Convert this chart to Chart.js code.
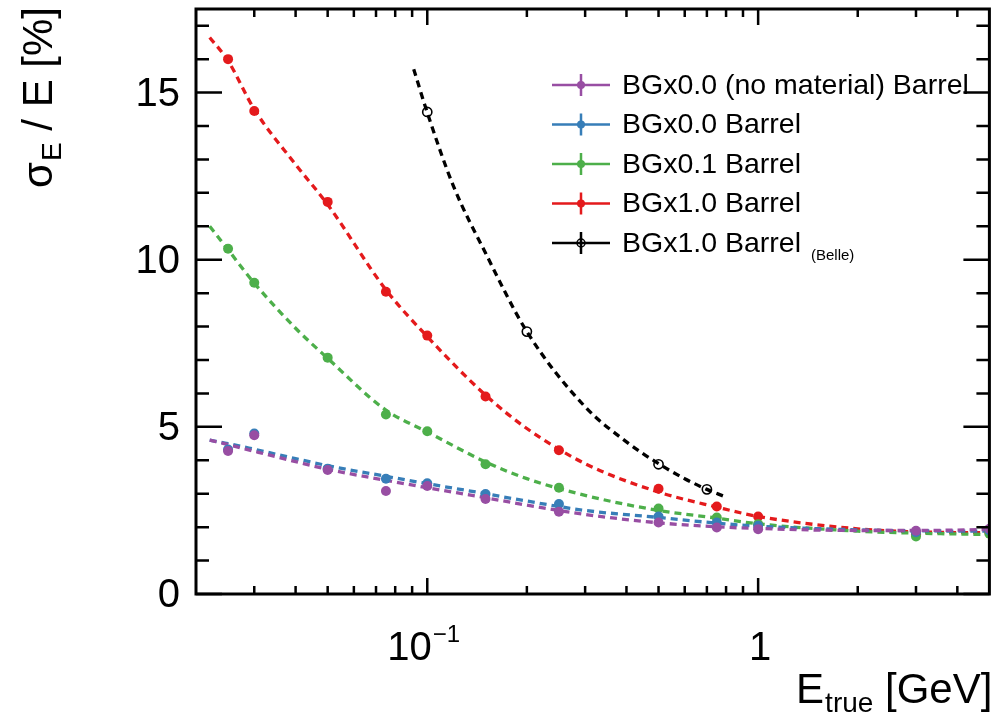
<!DOCTYPE html>
<html><head><meta charset="utf-8">
<script src="https://cdn.jsdelivr.net/npm/chart.js@4.4.1/dist/chart.umd.min.js"></script>
<style>html,body{margin:0;padding:0;background:#fff;} #wrap{width:996px;height:714px;position:relative;}</style>
</head><body><div id="wrap"><canvas id="c" width="996" height="714"></canvas></div>
<script>
// ---- data ----
const energies   = [0.025, 0.03, 0.05, 0.075, 0.1, 0.15, 0.25, 0.5, 0.75, 1.0, 3.0, 5.0];
const noMaterial = [4.28, 4.75, 3.71, 3.08, 3.23, 2.84, 2.46, 2.14, 1.99, 1.94, 1.89, 1.95];
const bg00       = [4.32, 4.80, 3.75, 3.45, 3.31, 2.99, 2.69, 2.32, 2.14, 2.04, 1.85, 1.90];
const bg01       = [10.33, 9.31, 7.07, 5.37, 4.87, 3.88, 3.18, 2.56, 2.29, 2.09, 1.72, 1.80];
const bg10       = [16.0, 14.45, 11.73, 9.04, 7.73, 5.91, 4.30, 3.15, 2.62, 2.32, 1.79, 1.84];
const belleE     = [0.1, 0.2, 0.5, 0.7];
const belle      = [14.42, 7.85, 3.88, 3.13];

// fit curves (dashed)
const fitE          = [0.022, 0.025, 0.03, 0.04, 0.05, 0.075, 0.1, 0.15, 0.2, 0.3, 0.5, 0.75, 1, 2, 3, 5];
const fitNoMaterial = [4.60, 4.47, 4.27, 3.96, 3.73, 3.40, 3.18, 2.88, 2.66, 2.38, 2.13, 2.01, 1.96, 1.90, 1.90, 1.93];
const fitBg00       = [4.60, 4.50, 4.33, 4.05, 3.84, 3.52, 3.30, 3.00, 2.78, 2.50, 2.29, 2.12, 2.03, 1.92, 1.89, 1.88];
const fitBg01       = [11.0, 10.3, 9.30, 7.95, 7.05, 5.50, 4.85, 3.95, 3.45, 2.95, 2.50, 2.27, 2.10, 1.88, 1.82, 1.78];
const fitBg10       = [16.65, 15.95, 14.5, 12.85, 11.65, 9.10, 7.70, 5.95, 4.95, 3.90, 3.05, 2.60, 2.32, 1.95, 1.86, 1.83];
const fitBelleE     = [0.091, 0.1, 0.12, 0.15, 0.2, 0.3, 0.4, 0.5, 0.6, 0.7, 0.79];
const fitBelle      = [15.7, 14.4, 12.2, 10.2, 7.85, 5.6, 4.55, 3.9, 3.45, 3.13, 2.92];

const seriesNames  = ["BGx0.0 (no material) Barrel", "BGx0.0 Barrel", "BGx0.1 Barrel", "BGx1.0 Barrel", "BGx1.0 Barrel"];
const seriesSuffix = ["", "", "", "", "(Belle)"];
const seriesColors = ["#984ea3", "#377eb8", "#4daf4a", "#e41a1c", "#000000"];

const yMajorTicks = [0, 5, 10, 15];
const yMinorTicks = [1,2,3,4,6,7,8,9,11,12,13,14,16,17];
const xMajorTicks = [0.1, 1];
const xMajorLabels = [["10", "\u22121"], ["1", ""]];
const xMinorTicks = [0.03,0.04,0.05,0.06,0.07,0.08,0.09,0.2,0.3,0.4,0.5,0.6,0.7,0.8,0.9,2,3,4];
const xTitle = ["E", "true", " [GeV]"];
const yTitle = ["\u03c3", "E", " / E [%]"];

const FONT = "'Liberation Sans', Arial, Helvetica, sans-serif";

function pts(xs, ys) { return xs.map((x, i) => ({x: x, y: ys[i]})); }

const pointSets = [
  [energies, noMaterial], [energies, bg00], [energies, bg01], [energies, bg10], [belleE, belle]
];
const fitSets = [
  [fitE, fitNoMaterial], [fitE, fitBg00], [fitE, fitBg01], [fitE, fitBg10], [fitBelleE, fitBelle]
];

const datasets = [];
pointSets.forEach((s, i) => {
  const open = (i === 4);
  datasets.push({
    label: seriesNames[i],
    data: pts(s[0], s[1]),
    showLine: false,
    pointRadius: open ? 4.6 : 5,
    pointHoverRadius: 5,
    pointBackgroundColor: open ? "rgba(255,255,255,0)" : seriesColors[i],
    pointBorderColor: seriesColors[i],
    pointBorderWidth: open ? 1.6 : 0,
    order: i,
    clip: 0
  });
});
fitSets.forEach((s, i) => {
  datasets.push({
    label: "fit " + i,
    data: pts(s[0], s[1]),
    showLine: true,
    borderColor: seriesColors[i],
    borderWidth: 3.3,
    borderDash: [7, 5],
    pointRadius: 0,
    cubicInterpolationMode: "monotone",
    order: 10 + i,
    clip: 0
  });
});

const framePlugin = {
  id: "frame",
  afterDraw(chart) {
    const ctx = chart.ctx, a = chart.chartArea;
    const xs = chart.scales.x, ys = chart.scales.y;
    ctx.save();
    ctx.strokeStyle = "#000";
    ctx.lineWidth = 2.5;
    // ticks
    ctx.beginPath();
    yMajorTicks.forEach(v => { const p = ys.getPixelForValue(v);
      ctx.moveTo(a.left, p); ctx.lineTo(a.left + 26, p);
      ctx.moveTo(a.right, p); ctx.lineTo(a.right - 26, p); });
    yMinorTicks.forEach(v => { const p = ys.getPixelForValue(v);
      ctx.moveTo(a.left, p); ctx.lineTo(a.left + 13, p);
      ctx.moveTo(a.right, p); ctx.lineTo(a.right - 13, p); });
    xMajorTicks.forEach(v => { const p = xs.getPixelForValue(v);
      ctx.moveTo(p, a.bottom); ctx.lineTo(p, a.bottom - 16);
      ctx.moveTo(p, a.top); ctx.lineTo(p, a.top + 16); });
    xMinorTicks.forEach(v => { const p = xs.getPixelForValue(v);
      ctx.moveTo(p, a.bottom); ctx.lineTo(p, a.bottom - 8);
      ctx.moveTo(p, a.top); ctx.lineTo(p, a.top + 8); });
    ctx.stroke();
    // frame
    ctx.lineWidth = 3;
    ctx.strokeRect(a.left, a.top, a.right - a.left, a.bottom - a.top);

    // y tick labels
    ctx.fillStyle = "#000";
    ctx.font = "40px " + FONT;
    ctx.textAlign = "right";
    ctx.textBaseline = "middle";
    yMajorTicks.forEach(v => ctx.fillText(String(v), a.left - 16, ys.getPixelForValue(v) + 2));

    // x tick labels
    ctx.textBaseline = "alphabetic";
    ctx.textAlign = "left";
    xMajorTicks.forEach((v, i) => {
      const p = xs.getPixelForValue(v);
      const base = xMajorLabels[i][0], sup = xMajorLabels[i][1];
      ctx.font = "40px " + FONT;
      const wb = ctx.measureText(base).width;
      ctx.font = "24px " + FONT;
      const ws = sup ? ctx.measureText(sup).width : 0;
      const x0 = p - (wb + ws) / 2 - (sup ? 4 : -2);
      ctx.font = "40px " + FONT;
      ctx.fillText(base, x0, 660);
      if (sup) { ctx.font = "24px " + FONT; ctx.fillText(sup, x0 + wb + 1, 642); }
    });

    // x title (right aligned to frame)
    ctx.font = "42px " + FONT;
    const wE = ctx.measureText(xTitle[0]).width;
    const wR = ctx.measureText(xTitle[2]).width;
    ctx.font = "28px " + FONT;
    const wS = ctx.measureText(xTitle[1]).width;
    let tx = a.right + 2 - (wE + wS + wR);
    ctx.font = "42px " + FONT;
    ctx.fillText(xTitle[0], tx, 703);
    ctx.font = "28px " + FONT;
    ctx.fillText(xTitle[1], tx + wE + 1, 712);
    ctx.font = "42px " + FONT;
    ctx.fillText(xTitle[2], tx + wE + wS + 1, 703);

    // y title (rotated, top aligned)
    ctx.save();
    ctx.translate(52, a.top - 1);
    ctx.rotate(-Math.PI / 2);
    ctx.font = "42px " + FONT;
    const w1 = ctx.measureText(yTitle[0]).width;
    const w3 = ctx.measureText(yTitle[2]).width;
    ctx.font = "28px " + FONT;
    const w2 = ctx.measureText(yTitle[1]).width;
    let yx = -(w1 + w2 + w3);
    ctx.font = "42px " + FONT;
    ctx.fillText(yTitle[0], yx, 0);
    ctx.font = "28px " + FONT;
    ctx.fillText(yTitle[1], yx + w1 + 1, 9);
    ctx.font = "42px " + FONT;
    ctx.fillText(yTitle[2], yx + w1 + w2 + 1, 0);
    ctx.restore();

    // legend
    const lx0 = 552, lx1 = 610, tx0 = 622, ly0 = 85, dy = 39.5;
    seriesNames.forEach((name, i) => {
      const y = ly0 + i * dy, c = seriesColors[i];
      ctx.strokeStyle = c; ctx.fillStyle = c; ctx.lineWidth = 2.5;
      ctx.beginPath();
      ctx.moveTo(lx0, y); ctx.lineTo(lx1, y);
      ctx.moveTo((lx0 + lx1) / 2, y - 11); ctx.lineTo((lx0 + lx1) / 2, y + 11);
      ctx.stroke();
      ctx.beginPath();
      ctx.arc((lx0 + lx1) / 2, y, 4, 0, Math.PI * 2);
      if (i === 4) { ctx.lineWidth = 1.5; ctx.stroke(); } else ctx.fill();
      ctx.fillStyle = "#000";
      ctx.font = "28.5px " + FONT;
      ctx.textBaseline = "middle";
      ctx.fillText(name, tx0, y + 1);
      if (seriesSuffix[i]) {
        const w = ctx.measureText(name).width;
        ctx.font = "15px " + FONT;
        ctx.fillText(seriesSuffix[i], tx0 + w + 10, y + 13);
      }
      ctx.textBaseline = "alphabetic";
    });
    ctx.restore();
  }
};

new Chart(document.getElementById("c"), {
  type: "scatter",
  data: { datasets: datasets },
  options: {
    responsive: false,
    animation: false,
    events: [],
    layout: { padding: { left: 196, top: 9, right: 4, bottom: 120 } },
    plugins: { legend: { display: false }, tooltip: { enabled: false } },
    scales: {
      x: { type: "logarithmic", min: 0.02, max: 5, display: false },
      y: { type: "linear", min: 0, max: 17.5, display: false }
    }
  },
  plugins: [framePlugin]
});
</script>
</body></html>
